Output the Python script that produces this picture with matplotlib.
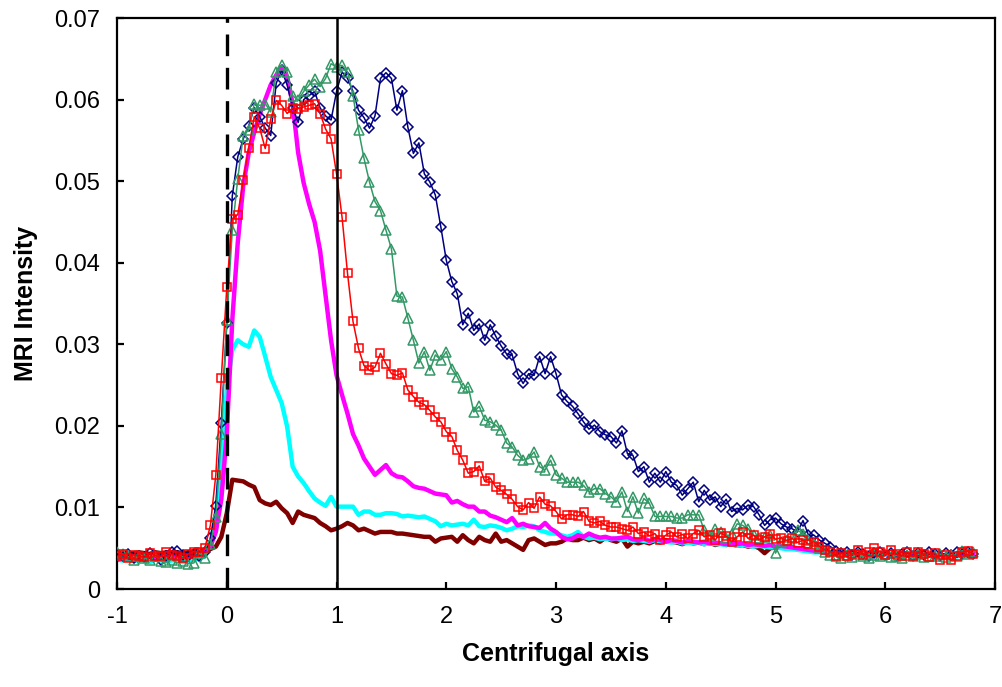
import numpy as np
import matplotlib
matplotlib.use("Agg")
import matplotlib.pyplot as plt

# sampling grid of the profiles along the centrifugal axis (step 0.05)
x_start = -1.0
x_step = 0.05

# profile with open diamonds (navy)
diamonds = [
    .0042, .0040, .0043, .0038, .0041, .0039, .0044, .0040, .0036, .0041,
    .0045, .0047, .0042, .0040, .0043, .0041, .0045, .0062, .0102, .0204,
    .0326, .0482, .0530, .0552, .0568, .0590, .0579, .0565, .0556, .0620,
    .0636, .0618, .0590, .0572, .0600, .0605, .0610, .0590, .0580, .0575,
    .0610, .0634, .0626, .0610, .0587, .0578, .0565, .0580, .0626, .0633,
    .0626, .0587, .0611, .0566, .0534, .0547, .0509, .0499, .0483, .0444,
    .0403, .0377, .0362, .0324, .0338, .0317, .0325, .0305, .0324, .0310,
    .0298, .0288, .0287, .0264, .0252, .0264, .0262, .0285, .0264, .0285,
    .0264, .0238, .0230, .0224, .0215, .0205, .0196, .0201, .0193, .0189,
    .0187, .0179, .0194, .0166, .0164, .0144, .0150, .0131, .0142, .0131,
    .0144, .0131, .0127, .0115, .0123, .0131, .0107, .0121, .0109, .0113,
    .0101, .0110, .0095, .0099, .0097, .0103, .0101, .0091, .0078, .0085,
    .0087, .0080, .0076, .0074, .0070, .0084, .0066, .0066, .0060, .0056,
    .0052, .0047, .0044, .0046, .0042, .0045, .0043, .0041, .0044, .0046,
    .0042, .0044, .0040, .0043, .0045, .0041, .0044, .0042, .0046, .0043,
    .0041, .0044, .0042, .0045, .0043, .0046, .0043,
]

# profile with open triangles (green)
triangles = [
    .0045, .0043, .0040, .0036, .0040, .0038, .0035, .0041, .0034, .0033,
    .0036, .0032, .0034, .0031, .0032, .0044, .0038, .0055, .0088, .0190,
    .0330, .0440, .0503, .0556, .0563, .0595, .0593, .0595, .0585, .0634,
    .0642, .0634, .0605, .0599, .0610, .0618, .0625, .0616, .0626, .0644,
    .0640, .0642, .0634, .0605, .0563, .0528, .0499, .0475, .0464, .0440,
    .0417, .0359, .0358, .0332, .0305, .0277, .0291, .0268, .0287, .0281,
    .0291, .0270, .0260, .0246, .0248, .0217, .0224, .0207, .0205, .0201,
    .0195, .0179, .0174, .0164, .0158, .0160, .0168, .0150, .0146, .0158,
    .0140, .0136, .0131, .0131, .0131, .0127, .0119, .0123, .0123, .0117,
    .0113, .0107, .0119, .0095, .0113, .0093, .0111, .0105, .0089, .0089,
    .0089, .0089, .0087, .0087, .0091, .0091, .0091, .0072, .0065, .0074,
    .0070, .0063, .0068, .0080, .0078, .0074, .0066, .0062, .0064, .0066,
    .0044, .0058, .0060, .0062, .0072, .0068, .0060, .0055, .0050, .0046,
    .0042, .0040, .0038, .0042, .0039, .0043, .0040, .0038, .0042, .0040,
    .0043, .0039, .0041, .0038, .0042, .0040, .0043, .0039, .0041, .0040,
    .0043, .0039, .0042, .0041, .0047, .0043, .0045,
]

# profile with open squares (red)
squares = [
    .0040, .0043, .0038, .0042, .0040, .0039, .0044, .0041, .0040, .0046,
    .0042, .0040, .0038, .0043, .0046, .0045, .0050, .0078, .0140, .0259,
    .0370, .0454, .0459, .0501, .0541, .0579, .0565, .0540, .0576, .0599,
    .0593, .0583, .0590, .0589, .0591, .0593, .0595, .0583, .0564, .0552,
    .0509, .0456, .0387, .0328, .0295, .0274, .0268, .0272, .0289, .0276,
    .0264, .0262, .0265, .0244, .0236, .0229, .0226, .0219, .0211, .0205,
    .0193, .0187, .0170, .0158, .0142, .0144, .0151, .0132, .0136, .0125,
    .0121, .0116, .0110, .0101, .0097, .0106, .0099, .0113, .0104, .0102,
    .0095, .0086, .0091, .0091, .0089, .0095, .0083, .0081, .0083, .0078,
    .0076, .0076, .0074, .0072, .0076, .0068, .0070, .0065, .0068, .0060,
    .0066, .0070, .0064, .0067, .0062, .0068, .0072, .0064, .0066, .0060,
    .0069, .0065, .0058, .0064, .0070, .0062, .0066, .0060, .0064, .0067,
    .0061, .0063, .0059, .0062, .0057, .0060, .0055, .0058, .0052, .0048,
    .0046, .0041, .0044, .0040, .0043, .0048, .0042, .0045, .0050, .0046,
    .0042, .0048, .0043, .0041, .0045, .0040, .0046, .0043, .0039, .0044,
    .0036, .0042, .0035, .0041, .0045, .0047, .0043,
]

# thick magenta profile
magenta = [
    .0036, .0037, .0038, .0037, .0037, .0038, .0039, .0038, .0038, .0039,
    .0040, .0039, .0039, .0040, .0041, .0042, .0045, .0052, .0070, .0110,
    .0190, .0330, .0425, .0495, .0535, .0560, .0582, .0600, .0618, .0630,
    .0638, .0628, .0595, .0535, .0498, .0472, .0450, .0415, .0360, .0305,
    .0262, .0238, .0215, .0190, .0176, .0160, .0150, .0140, .0146, .0152,
    .0142, .0138, .0137, .0132, .0126, .0124, .0123, .0120, .0117, .0116,
    .0115, .0106, .0108, .0104, .0101, .0101, .0095, .0095, .0090, .0088,
    .0085, .0082, .0087, .0078, .0080, .0077, .0076, .0075, .0081, .0074,
    .0070, .0064, .0061, .0062, .0066, .0064, .0068, .0065, .0063, .0064,
    .0062, .0062, .0063, .0064, .0061, .0060, .0062, .0059, .0061, .0060,
    .0058, .0060, .0059, .0057, .0059, .0058, .0057, .0058, .0056, .0057,
    .0056, .0055, .0057, .0055, .0056, .0054, .0055, .0054, .0053, .0054,
    .0052, .0053, .0052, .0051, .0050, .0049, .0048, .0047, .0046, .0045,
    .0044, .0044, .0043, .0044, .0043, .0042, .0043, .0042, .0043, .0042,
    .0043, .0042, .0042, .0043, .0042, .0041, .0042, .0043, .0042, .0041,
    .0042, .0041, .0042, .0041, .0042, .0041, .0042,
]

# thick cyan profile
cyan = [
    .0036, .0035, .0037, .0034, .0036, .0035, .0033, .0036, .0035, .0034,
    .0035, .0036, .0033, .0035, .0036, .0037, .0040, .0055, .0090, .0160,
    .0245, .0293, .0305, .0300, .0297, .0317, .0309, .0285, .0260, .0244,
    .0228, .0199, .0150, .0138, .0130, .0120, .0111, .0106, .0102, .0113,
    .0101, .0101, .0101, .0101, .0091, .0095, .0095, .0091, .0091, .0093,
    .0093, .0092, .0089, .0090, .0089, .0088, .0089, .0086, .0083, .0077,
    .0080, .0078, .0079, .0080, .0078, .0085, .0077, .0076, .0078, .0077,
    .0075, .0072, .0074, .0077, .0076, .0078, .0077, .0072, .0070, .0068,
    .0068, .0066, .0064, .0066, .0070, .0064, .0062, .0063, .0061, .0062,
    .0061, .0062, .0060, .0061, .0059, .0060, .0059, .0058, .0060, .0058,
    .0058, .0057, .0058, .0056, .0057, .0056, .0057, .0055, .0056, .0055,
    .0055, .0054, .0055, .0053, .0054, .0053, .0052, .0053, .0052, .0051,
    .0051, .0050, .0049, .0049, .0048, .0047, .0046, .0045, .0045, .0044,
    .0044, .0043, .0043, .0042, .0043, .0042, .0042, .0041, .0042, .0041,
    .0042, .0041, .0041, .0042, .0041, .0040, .0041, .0042, .0041, .0040,
    .0041, .0040, .0041, .0040, .0041, .0040, .0041,
]

# thick dark red profile
darkred = [
    .0044, .0045, .0043, .0044, .0045, .0044, .0043, .0045, .0044, .0045,
    .0044, .0045, .0044, .0045, .0046, .0047, .0048, .0049, .0052, .0064,
    .0093, .0134, .0133, .0132, .0128, .0125, .0109, .0105, .0103, .0107,
    .0099, .0093, .0081, .0095, .0091, .0089, .0087, .0081, .0077, .0072,
    .0074, .0077, .0081, .0078, .0072, .0074, .0071, .0068, .0070, .0070,
    .0070, .0068, .0068, .0067, .0066, .0065, .0064, .0064, .0058, .0062,
    .0063, .0064, .0058, .0066, .0060, .0056, .0064, .0060, .0058, .0068,
    .0058, .0060, .0056, .0052, .0048, .0060, .0062, .0058, .0054, .0056,
    .0056, .0058, .0062, .0060, .0060, .0063, .0060, .0062, .0058, .0063,
    .0060, .0058, .0062, .0052, .0058, .0056, .0058, .0056, .0059, .0057,
    .0060, .0058, .0057, .0055, .0058, .0056, .0057, .0055, .0057, .0054,
    .0056, .0054, .0055, .0053, .0054, .0052, .0053, .0050, .0044, .0050,
    .0051, .0052, .0050, .0051, .0049, .0050, .0048, .0047, .0046, .0045,
    .0045, .0044, .0044, .0043, .0044, .0043, .0043, .0042, .0043, .0042,
    .0043, .0042, .0042, .0043, .0042, .0041, .0042, .0043, .0042, .0041,
    .0042, .0041, .0042, .0041, .0042, .0041, .0042,
]

xticks = [-1, 0, 1, 2, 3, 4, 5, 6, 7]
yticks = [0, 0.01, 0.02, 0.03, 0.04, 0.05, 0.06, 0.07]
ytick_labels = ["0", "0.01", "0.02", "0.03", "0.04", "0.05", "0.06", "0.07"]

plt.rcParams['font.family'] = ['Liberation Sans', 'DejaVu Sans']

x = x_start + x_step * np.arange(len(diamonds))

fig = plt.figure(figsize=(10.03, 6.87), dpi=100)
ax = fig.add_axes([0.1167, 0.1426, 0.8754, 0.8311])

# thick lines first, marker profiles on top
ax.plot(x, darkred, color='#800000', lw=3.2, zorder=2)
ax.plot(x, cyan, color='#00FFFF', lw=3.2, zorder=2)
ax.plot(x, magenta, color='#FF00FF', lw=3.2, zorder=2)

ax.plot(x, diamonds, color='#000080', lw=1.1, marker='D', ms=5,
        mfc='none', mec='#000080', mew=1.1, zorder=3)
ax.plot(x, triangles, color='#339966', lw=1.1, marker='^', ms=7,
        mfc='none', mec='#339966', mew=1.1, zorder=3)
ax.plot(x, squares, color='#FF0000', lw=1.1, marker='s', ms=5.8,
        mfc='none', mec='#FF0000', mew=1.1, zorder=3)

# reference lines at 0 and 1
ax.axvline(0, color='black', lw=2.4, ls=(0, (6.5, 3.5)), zorder=4)
ax.axvline(1, color='black', lw=1.8, zorder=4)

ax.set_xlim(-1, 7)
ax.set_ylim(0, 0.07)
ax.set_xticks(xticks)
ax.set_xticklabels([str(t) for t in xticks])
ax.set_yticks(yticks)
ax.set_yticklabels(ytick_labels)
ax.tick_params(direction='in', length=5, width=1.6, labelsize=17, pad=12)
for s in ax.spines.values():
    s.set_linewidth(1.6)

ax.set_xlabel("Centrifugal axis", fontsize=18, fontweight='bold', labelpad=10)
ax.set_ylabel("MRI Intensity", fontsize=18, fontweight='bold', labelpad=12)

fig.savefig("out.png", dpi=100)
